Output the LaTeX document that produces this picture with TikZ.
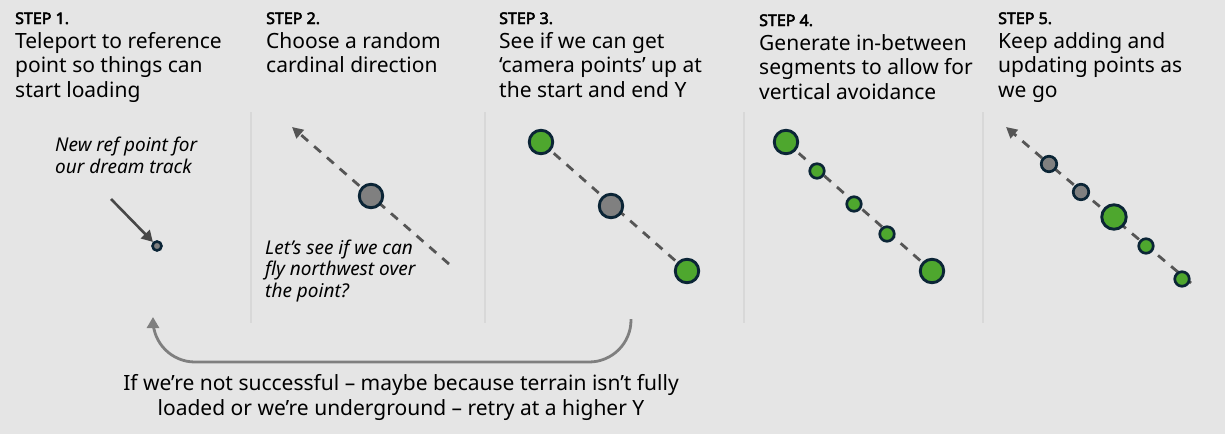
\documentclass[tikz,border=0pt]{standalone}
\usepackage{fontspec}
\setmainfont{Noto Sans}[AutoFakeBold=3]
\usetikzlibrary{arrows.meta,backgrounds}
\definecolor{bg}{HTML}{E5E5E5}
\definecolor{sep}{HTML}{D8D8D8}
\definecolor{navy}{HTML}{0B2536}
\definecolor{ptgreen}{HTML}{4EA72E}
\definecolor{ptgray}{HTML}{808080}
\definecolor{dash}{HTML}{555555}
\definecolor{loop}{HTML}{7F7F7F}
\tikzset{
  steplabel/.style={anchor=base west,inner sep=0pt,font=\fontsize{16}{18}\selectfont\bfseries},
  steptitle/.style={anchor=base west,inner sep=0pt,align=left,font=\fontsize{21}{24.5}\selectfont},
  note/.style={anchor=base west,inner sep=0pt,align=left,font=\fontsize{19}{21.5}\selectfont\itshape},
  sepline/.style={draw=sep,line width=2.5pt},
  bigpt/.style={circle,draw=navy,line width=2.9pt,minimum size=23.5pt,inner sep=0pt},
  smallpt/.style={circle,draw=navy,line width=2.7pt,minimum size=14.5pt,inner sep=0pt},
  greenpt/.style={fill=ptgreen},
  graypt/.style={fill=ptgray},
  track/.style={draw=dash,line width=2.8pt,dash pattern=on 9pt off 8pt},
  trackarrow/.style={track,-{Triangle[length=11pt,width=11pt]}},
}
\begin{document}
\begin{tikzpicture}[x=1pt,y=-1pt]
\begin{pgfonlayer}{background}
\fill[bg] (0,0) rectangle (1225,434);
\end{pgfonlayer}
\useasboundingbox (0,0) rectangle (1225,434);
% separators
\foreach \xx/\nm in {251/s1,485/s2,744/s3,983/s4}{
  \coordinate (\nm t) at (\xx,112);
  \coordinate (\nm b) at (\xx,323);
  \draw[sepline] (\nm t) -- (\nm b);
}
% step labels and titles (anchor at baseline of last line)
\node[steplabel] (l1) at (15,24) {STEP 1.};
\node[steplabel] (l2) at (266,24) {STEP 2.};
\node[steplabel] (l3) at (499,24) {STEP 3.};
\node[steplabel] (l4) at (759,26) {STEP 4.};
\node[steplabel] (l5) at (998,24) {STEP 5.};
\node[steptitle] (t1) at (15,97) {Teleport to reference\\point so things can\\start loading};
\node[steptitle] (t2) at (266,72.5) {Choose a random\\cardinal direction};
\node[steptitle] (t3) at (499,97) {See if we can get\\‘camera points’ up at\\the start and end Y};
\node[steptitle] (t4) at (759,99) {Generate in-between\\segments to allow for\\vertical avoidance};
\node[steptitle] (t5) at (998,97) {Keep adding and\\updating points as\\we go};
% step 1
\node[note] (n1) at (55,173) {New ref point for\\our dream track};
\node[circle,draw=navy,fill=ptgray,line width=2.6pt,minimum size=9pt,inner sep=0pt] (ref) at (157,246) {};
\coordinate (a1s) at (111,199);
\draw[draw=black!72,line width=2.6pt,-{Triangle[length=11pt,width=12pt]}] (a1s) -- (ref.north west);
% step 2
\coordinate (d2s) at (449,264);
\coordinate (d2e) at (292,127);
\node[bigpt,graypt] (p2) at (371,196) {};
\node[note] (n2) at (265,297) {Let’s see if we can\\fly northwest over\\the point?};
% step 3
\node[bigpt,greenpt] (p3a) at (541,142) {};
\node[bigpt,graypt] (p3b) at (611,206) {};
\node[bigpt,greenpt] (p3c) at (687,271) {};
% step 4
\node[bigpt,greenpt] (p4a) at (786,142) {};
\node[smallpt,greenpt] (p4b) at (817,171) {};
\node[smallpt,greenpt] (p4c) at (854,204) {};
\node[smallpt,greenpt] (p4d) at (887,234) {};
\node[bigpt,greenpt] (p4e) at (932,271) {};
% step 5
\coordinate (d5s) at (1191,283);
\coordinate (d5e) at (1006,127);
\node[smallpt,graypt,minimum size=15.5pt] (p5a) at (1049,164) {};
\node[smallpt,graypt,minimum size=15.5pt] (p5b) at (1081,192) {};
\node[bigpt,greenpt,minimum size=24.5pt] (p5c) at (1114,217) {};
\node[smallpt,greenpt] (p5d) at (1146,246) {};
\node[smallpt,greenpt] (p5e) at (1182,279) {};
% dashed tracks behind the points
\begin{pgfonlayer}{background}
\draw[trackarrow] (d2s) -- (d2e);
\draw[track] (p3a.center) -- (p3c.center);
\draw[track] (p4a.center) -- (p4e.center);
\draw[track] (d5s) -- (p5a.center);
\draw[trackarrow] (p5a) -- (d5e);
\end{pgfonlayer}
% loop arrow
\coordinate (lp1) at (631,319);
\coordinate (lp2) at (153,317);
\draw[draw=loop,line width=2.8pt,rounded corners=42pt,-{Triangle[length=11pt,width=12pt]}] (lp1) -- (631,362) -- (153,362) -- (lp2);
\node[anchor=base,inner sep=0pt,align=center,font=\fontsize{21}{24.5}\selectfont] (bt) at (401,415) {If we’re not successful – maybe because terrain isn’t fully\\loaded or we’re underground – retry at a higher Y};
\end{tikzpicture}
\end{document}
